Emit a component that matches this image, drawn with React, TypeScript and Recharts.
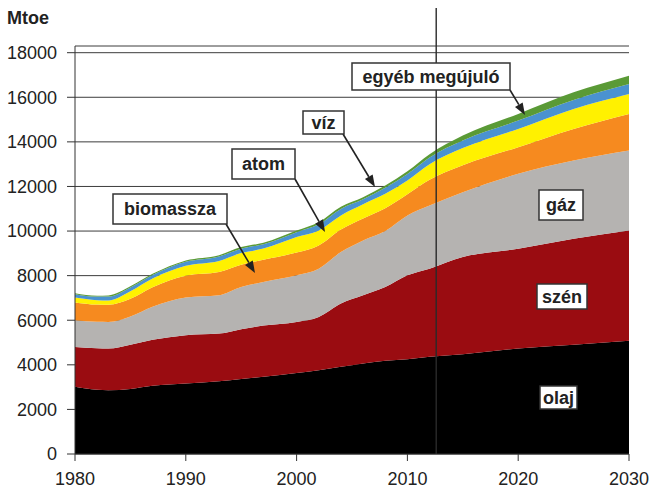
import React from 'react';
import { AreaChart, Area, XAxis, YAxis, CartesianGrid, ReferenceLine } from 'recharts';

const years = [1980, 1982, 1983, 1985, 1987, 1990, 1993, 1995, 1997, 2000, 2002, 2004, 2006, 2008, 2010, 2012, 2015, 2020, 2025, 2030];
const olaj = [3013, 2880, 2860, 2920, 3060, 3165, 3260, 3360, 3460, 3630, 3761, 3909, 4060, 4180, 4250, 4357, 4477, 4731, 4900, 5080];
const szen = [1791, 1860, 1871, 1980, 2060, 2165, 2140, 2240, 2300, 2293, 2386, 2837, 3058, 3310, 3764, 3956, 4356, 4477, 4756, 4948];
const gaz = [1196, 1190, 1192, 1270, 1480, 1690, 1720, 1890, 1954, 2091, 2166, 2311, 2463, 2510, 2686, 2835, 2911, 3359, 3506, 3582];
const biomassza = [800, 770, 767, 790, 880, 980, 1040, 1000, 1000, 1020, 1040, 1010, 980, 1020, 950, 1150, 1206, 1193, 1420, 1643];
const atom = [215, 200, 200, 340, 390, 440, 500, 520, 500, 696, 675, 633, 640, 650, 620, 700, 770, 822, 895, 895];
const viz = [155, 160, 170, 170, 160, 180, 200, 200, 190, 220, 272, 290, 220, 270, 290, 306, 340, 371, 403, 447];
const egyeb = [40, 40, 50, 50, 50, 60, 60, 70, 70, 78, 100, 100, 100, 100, 120, 140, 222, 300, 340, 373];

const xTicks = [1980, 1990, 2000, 2010, 2020, 2030];
const yTicks = [0, 2000, 4000, 6000, 8000, 10000, 12000, 14000, 16000, 18000];
const markerYear = 2012.6;

const data = years.map((year, i) => ({
  year,
  olaj: olaj[i],
  szen: szen[i],
  gaz: gaz[i],
  biomassza: biomassza[i],
  atom: atom[i],
  viz: viz[i],
  egyeb: egyeb[i],
}));

const series = [
  { key: 'olaj', color: '#000000' },
  { key: 'szen', color: '#9A0C11' },
  { key: 'gaz', color: '#B5B3B1' },
  { key: 'biomassza', color: '#F68A1F' },
  { key: 'atom', color: '#FFF100' },
  { key: 'viz', color: '#4A92D0' },
  { key: 'egyeb', color: '#5A9A36' },
];

const FONT = '"Liberation Sans", Arial, Helvetica, sans-serif';

type Box = { text: string; x: number; y: number; w: number; h: number };
const boxes: Box[] = [
  { text: 'egyéb megújuló', x: 352, y: 63, w: 158, h: 27 },
  { text: 'víz', x: 303, y: 111, w: 41, h: 23 },
  { text: 'atom', x: 232, y: 149, w: 63, h: 30 },
  { text: 'biomassza', x: 113, y: 194, w: 114, h: 30 },
  { text: 'gáz', x: 539, y: 190, w: 44, h: 30 },
  { text: 'szén', x: 537, y: 284, w: 50, h: 25 },
  { text: 'olaj', x: 540, y: 386, w: 37, h: 23 },
];

const arrows = [
  [510, 90, 525, 115],
  [343, 134, 375, 187],
  [295, 179, 325, 232],
  [226, 224, 255, 273],
];

function Arrow({ a }: { a: number[] }) {
  const [x1, y1, x2, y2] = a;
  const dx = x2 - x1;
  const dy = y2 - y1;
  const len = Math.sqrt(dx * dx + dy * dy);
  const ux = dx / len;
  const uy = dy / len;
  const hl = 12;
  const hw = 4.5;
  const bx = x2 - ux * hl;
  const by = y2 - uy * hl;
  const p1 = `${x2},${y2}`;
  const p2 = `${bx - uy * hw},${by + ux * hw}`;
  const p3 = `${bx + uy * hw},${by - ux * hw}`;
  return (
    <g>
      <line x1={x1} y1={y1} x2={bx} y2={by} stroke="#222" strokeWidth={1.6} />
      <polygon points={`${p1} ${p2} ${p3}`} fill="#222" />
    </g>
  );
}

export default function App() {
  return (
    <div style={{ position: 'absolute', left: 0, top: 0, width: 651, height: 491, background: '#fff' }}>
      <AreaChart
        width={651}
        height={491}
        data={data}
        margin={{ top: 46, right: 22, bottom: 7, left: 0 }}
      >
        <CartesianGrid horizontal vertical={false} stroke="#3c3c3c" strokeWidth={1} />
        <XAxis
          dataKey="year"
          type="number"
          domain={[1980, 2030]}
          ticks={xTicks}
          height={30}
          tickSize={7}
          tickMargin={11}
          stroke="#333"
          tick={{ fill: '#222', fontSize: 18, fontFamily: FONT }}
          interval={0}
          allowDataOverflow
        />
        <YAxis
          width={75}
          domain={[0, 18300]}
          ticks={yTicks}
          tickSize={8}
          tickMargin={10}
          stroke="#333"
          tick={{ fill: '#222', fontSize: 18, fontFamily: FONT }}
          interval={0}
          allowDataOverflow
        />
        {series.map((s) => (
          <Area
            key={s.key}
            dataKey={s.key}
            stackId="1"
            type="monotone"
            fill={s.color}
            fillOpacity={1}
            stroke="none"
            isAnimationActive={false}
            dot={false}
            activeDot={false}
          />
        ))}
        <ReferenceLine
          segment={[{ x: markerYear, y: 0 }, { x: markerYear, y: 20000 }]}
          ifOverflow="visible"
          stroke="#2a2a2a"
          strokeWidth={1.4}
        />
      </AreaChart>
      <svg
        width={651}
        height={491}
        style={{ position: 'absolute', left: 0, top: 0, pointerEvents: 'none' }}
      >
        <text x={7} y={24} fontFamily={FONT} fontWeight="bold" fontSize={18} fill="#222">
          Mtoe
        </text>
        {arrows.map((a, i) => (
          <Arrow key={i} a={a} />
        ))}
        {boxes.map((b) => (
          <g key={b.text}>
            <rect x={b.x} y={b.y} width={b.w} height={b.h} fill="#fff" stroke="#333" strokeWidth={1.5} />
            <text
              x={b.x + b.w / 2}
              y={b.y + b.h / 2}
              textAnchor="middle"
              dominantBaseline="central"
              fontFamily={FONT}
              fontWeight="bold"
              fontSize={18}
              fill="#222"
            >
              {b.text}
            </text>
          </g>
        ))}
      </svg>
    </div>
  );
}
